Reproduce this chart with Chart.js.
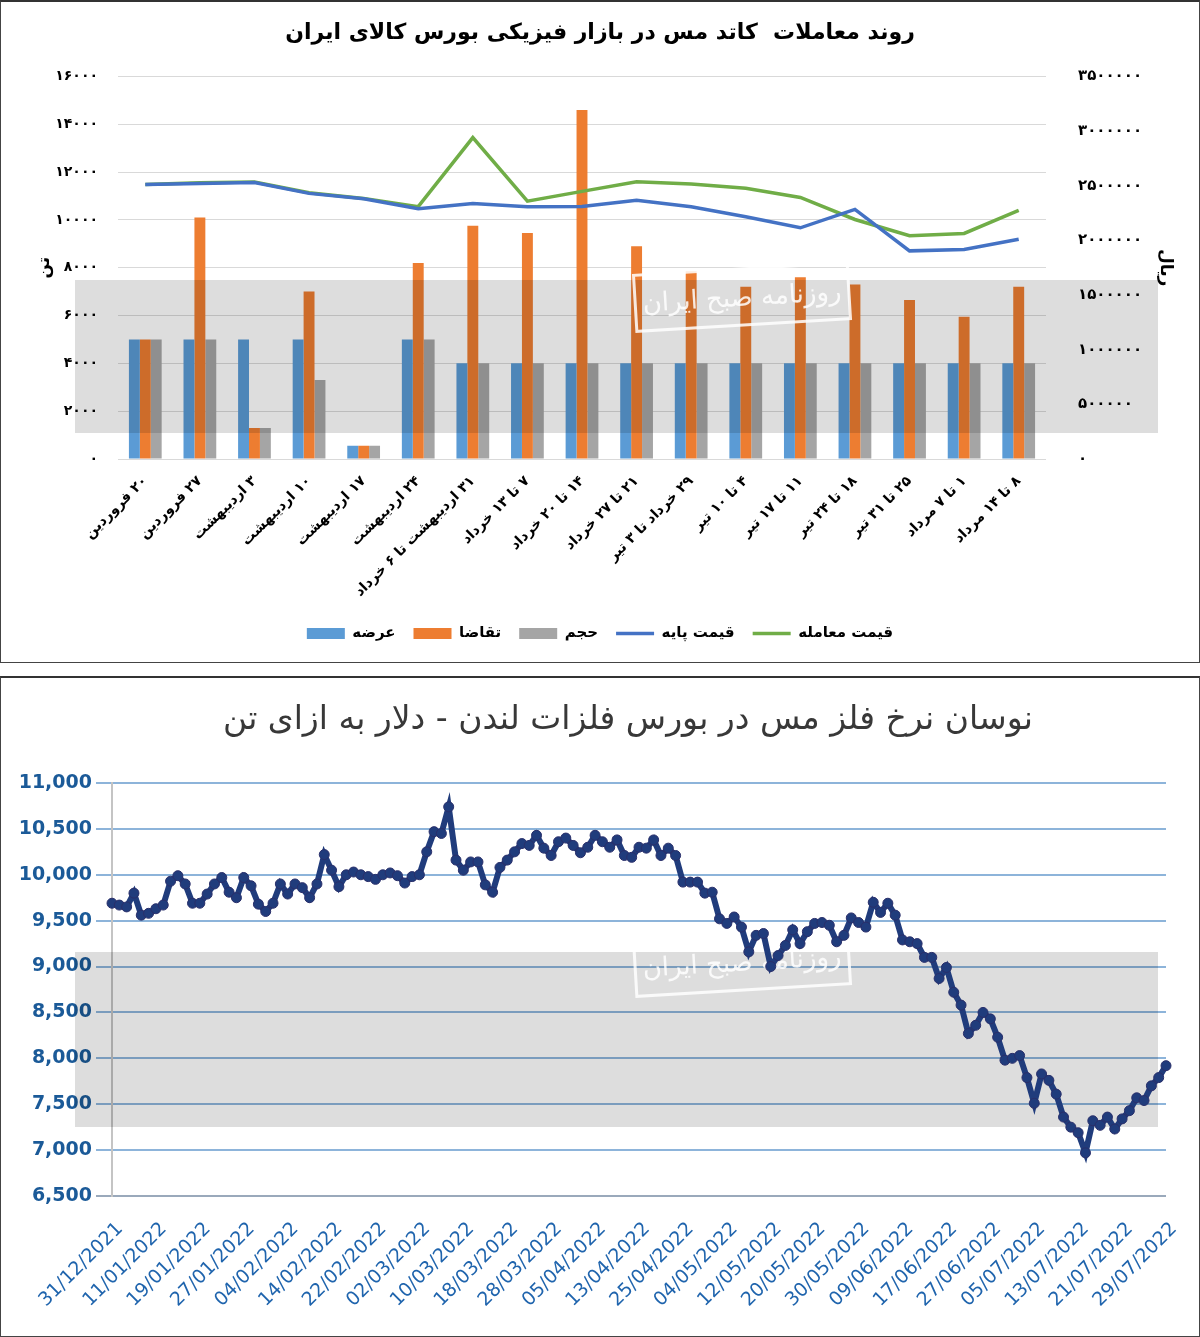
<!DOCTYPE html>
<html lang="fa">
<head>
<meta charset="utf-8">
<script src="https://cdn.jsdelivr.net/npm/chart.js@4.4.1/dist/chart.umd.min.js"></script>
<style>
  html, body { margin: 0; padding: 0; background: #fff; }
  body { width: 1200px; height: 1337px; position: relative; overflow: hidden; }
  canvas { position: absolute; left: 0; }
  #weekly { top: 0; }
  #lme { top: 676px; }
  .frame { position: absolute; left: 0; width: 1200px; box-sizing: border-box; border: 1px solid #444; pointer-events: none; }
  #f1 { top: 0; height: 663px; border-top: 2px solid #333; }
  #f2 { top: 676px; height: 661px; border-top: 2px solid #333; }
  #lmeTitle { position: absolute; top: 696px; left: 0; width: 1256px; text-align: center;
    font: 33px 'DejaVu Sans'; color: #383838; direction: rtl; line-height: 44px; }
</style>
</head>
<body>
<canvas id="weekly" width="1200" height="663" dir="rtl"></canvas>
<canvas id="lme" width="1200" height="661"></canvas>
<div id="lmeTitle">نوسان نرخ فلز مس در بورس فلزات لندن - دلار به ازای تن</div>
<div class="frame" id="f1"></div>
<div class="frame" id="f2"></div>
<script>
// --- top chart: weekly copper cathode trades on Iran Mercantile Exchange ---
const weeks = ['۲۰ فروردین', '۲۷ فروردین', '۳ اردیبهشت', '۱۰ اردیبهشت', '۱۷ اردیبهشت',
    '۲۴ اردیبهشت', '۳۱ اردیبهشت تا ۶ خرداد', '۷ تا ۱۳ خرداد', '۱۴ تا ۲۰ خرداد',
    '۲۱ تا ۲۷ خرداد', '۲۹ خرداد تا ۳ تیر', '۴ تا ۱۰ تیر', '۱۱ تا ۱۷ تیر',
    '۱۸ تا ۲۴ تیر', '۲۵ تا ۳۱ تیر', '۱ تا ۷ مرداد', '۸ تا ۱۴ مرداد'];
const supply = [5000, 5000, 5000, 5000, 550, 5000, 4000, 4000, 4000, 4000, 4000, 4000, 4000, 4000, 4000, 4000, 4000];
const demand = [5000, 10100, 1300, 7000, 550, 8200, 9750, 9450, 14600, 8900, 7850, 7200, 7600, 7300, 6650, 5950, 7200];
const volume = [5000, 5000, 1300, 3300, 550, 5000, 4000, 4000, 4000, 4000, 4000, 4000, 4000, 4000, 4000, 4000, 4000];
const basePrice = [2510000, 2520000, 2530000, 2430000, 2380000, 2290000, 2338000, 2308000, 2310000,
    2368000, 2308000, 2216000, 2115000, 2283000, 1904000, 1916000, 2011000];
const tradePrice = [2512000, 2528000, 2534000, 2436000, 2384000, 2308000, 2940000, 2359000, 2448000,
    2537000, 2515000, 2476000, 2393000, 2191000, 2042000, 2063000, 2274000];

// --- bottom chart: LME copper, USD per tonne ---
const lmeDates = ['31/12/2021', '11/01/2022', '19/01/2022', '27/01/2022', '04/02/2022',
    '14/02/2022', '22/02/2022', '02/03/2022', '10/03/2022', '18/03/2022', '28/03/2022',
    '05/04/2022', '13/04/2022', '25/04/2022', '04/05/2022', '12/05/2022', '20/05/2022',
    '30/05/2022', '09/06/2022', '17/06/2022', '27/06/2022', '05/07/2022', '13/07/2022',
    '21/07/2022', '29/07/2022'];
const lmeValues = [
    9690, 9670, 9650, 9800, 9560, 9580, 9630, 9670, 9930, 9990,
    9900, 9690, 9690, 9790, 9900, 9970, 9810, 9750, 9970, 9880,
    9680, 9600, 9690, 9900, 9790, 9900, 9860, 9750, 9900, 10220,
    10050, 9870, 10000, 10030, 10000, 9980, 9950, 10000, 10020, 9990,
    9910, 9980, 10000, 10250, 10470, 10450, 10740, 10160, 10050, 10140,
    10140, 9890, 9810, 10080, 10160, 10250, 10340, 10320, 10430, 10290,
    10210, 10360, 10400, 10320, 10240, 10300, 10430, 10360, 10300, 10380,
    10210, 10190, 10300, 10290, 10380, 10210, 10290, 10210, 9920, 9920,
    9920, 9800, 9810, 9520, 9470, 9540, 9430, 9160, 9340, 9360,
    9000, 9120, 9230, 9400, 9250, 9380, 9470, 9480, 9450, 9270,
    9340, 9530, 9480, 9430, 9700, 9590, 9690, 9560, 9290, 9270,
    9250, 9100, 9100, 8870, 8990, 8720, 8580, 8270, 8360, 8500,
    8430, 8230, 7980, 8000, 8030, 7790, 7510, 7830, 7760, 7610,
    7360, 7250, 7190, 6970, 7320, 7270, 7360, 7230, 7340, 7430,
    7570, 7540, 7700, 7790, 7920];
const lmeTickEvery = 6;

const FA = 'DejaVu Sans';
const faDigits = s => String(s).replace(/\d/g, d => '۰۱۲۳۴۵۶۷۸۹'[d]);

// gray newspaper watermark band + stamp, as in the printed page
function watermark(band, stamp, layer) {
    const draw = chart => {
        const ctx = chart.ctx;
        ctx.save();
        ctx.fillStyle = 'rgba(0,0,0,0.135)';
        ctx.fillRect(band[0], band[1], band[2], band[3]);
        ctx.translate(stamp[0], stamp[1]);
        ctx.rotate(-0.06);
        ctx.strokeStyle = 'rgba(255,255,255,0.85)';
        ctx.lineWidth = 3;
        ctx.strokeRect(-107, -28, 214, 56);
        ctx.fillStyle = 'rgba(255,255,255,0.85)';
        ctx.font = '26px ' + FA;
        ctx.textAlign = 'center';
        ctx.textBaseline = 'middle';
        ctx.fillText('روزنامه صبح ایران', 0, 2);
        ctx.restore();
    };
    return {id: 'watermark', [layer]: draw};
}

new Chart(document.getElementById('weekly'), {
    type: 'bar',
    plugins: [watermark([75, 280, 1083, 153], [742, 297], 'afterDatasetsDraw')],
    data: {
        labels: weeks,
        datasets: [
            {label: 'عرضه', data: supply, backgroundColor: '#5b9bd5', pointStyle: 'rect', order: 1},
            {label: 'تقاضا', data: demand, backgroundColor: '#ed7d31', pointStyle: 'rect', order: 1},
            {label: 'حجم', data: volume, backgroundColor: '#a5a5a5', pointStyle: 'rect', order: 1},
            {type: 'line', label: 'قیمت پایه', data: basePrice, yAxisID: 'y1', borderColor: '#4472c4',
                backgroundColor: '#4472c4', borderWidth: 3.5, pointRadius: 0, pointStyle: 'line', order: 0},
            {type: 'line', label: 'قیمت معامله', data: tradePrice, yAxisID: 'y1', borderColor: '#70ad47',
                backgroundColor: '#70ad47', borderWidth: 3.5, pointRadius: 0, pointStyle: 'line', order: 0},
        ],
    },
    options: {
        responsive: false,
        animation: false,
        devicePixelRatio: 1,
        layout: {padding: {left: 20, right: 20, top: 20, bottom: 12}},
        datasets: {bar: {barPercentage: 1, categoryPercentage: 0.6, borderWidth: 0}},
        scales: {
            x: {
                grid: {display: false},
                border: {display: false},
                ticks: {
                    autoSkip: false, minRotation: 45, maxRotation: 45, padding: 6,
                    color: '#000', font: {family: FA, size: 14, weight: 'bold'},
                },
                afterFit: s => { s.height = 149; },
            },
            y: {
                min: 0, max: 16000,
                grid: {color: '#d9d9d9', drawTicks: false},
                border: {display: false},
                ticks: {
                    stepSize: 2000, padding: 20, color: '#000',
                    font: {family: FA, size: 14, weight: 'bold'},
                    callback: v => faDigits(v),
                },
                title: {display: true, text: 'تن', color: '#000', padding: {top: 14, bottom: 0},
                    font: {family: FA, size: 17, weight: 'bold'}},
                afterFit: s => { s.width = 98; },
            },
            y1: {
                position: 'right',
                min: 0, max: 3500000,
                grid: {display: false, drawTicks: false},
                border: {display: false},
                ticks: {
                    stepSize: 500000, padding: 32, color: '#000',
                    font: {family: FA, size: 15, weight: 'bold'},
                    callback: v => faDigits(v),
                },
                title: {display: true, text: 'ریال', color: '#000', padding: {top: 4, bottom: 0},
                    font: {family: FA, size: 17, weight: 'bold'}},
                afterFit: s => { s.width = 134; },
            },
        },
        plugins: {
            title: {
                display: true,
                text: 'روند معاملات  کاتد مس در بازار فیزیکی بورس کالای ایران',
                color: '#000',
                font: {family: FA, size: 22, weight: 'bold'},
                padding: {top: 0, bottom: 30},
            },
            legend: {
                position: 'bottom',
                labels: {
                    usePointStyle: true, pointStyleWidth: 38, boxHeight: 11, padding: 18,
                    color: '#000', font: {family: FA, size: 15, weight: 'bold'},
                    sort: (a, b) => a.datasetIndex - b.datasetIndex,
                },
            },
            tooltip: {enabled: false},
        },
    },
});

new Chart(document.getElementById('lme'), {
    type: 'line',
    plugins: [watermark([75, 276, 1083, 175], [742, 286], 'beforeDatasetsDraw')],
    data: {
        labels: lmeValues.map((v, i) => i),
        datasets: [{
            label: 'LME',
            data: lmeValues,
            borderColor: '#203c7c',
            backgroundColor: '#203c7c',
            borderWidth: 6,
            pointRadius: 5,
            pointBorderWidth: 1,
            pointBorderColor: '#2a2f6a',
            pointBackgroundColor: '#203c7c',
            tension: 0,
        }],
    },
    options: {
        responsive: false,
        animation: false,
        devicePixelRatio: 1,
        layout: {padding: {left: 20, right: 34, top: 107, bottom: 0}},
        scales: {
            x: {
                offset: false,
                grid: {display: false},
                border: {display: false},
                ticks: {
                    autoSkip: false, minRotation: 45, maxRotation: 45, padding: 14, labelOffset: 8,
                    color: '#1f64ad', font: {family: FA, size: 19},
                    callback: (v, i) => i % lmeTickEvery === 0 ? lmeDates[i / lmeTickEvery] : null,
                },
                afterFit: s => { s.height = 141; },
            },
            y: {
                min: 6500, max: 11000,
                grid: {
                    color: c => c.tick && c.tick.value === 6500 ? '#9aa9bb' : '#8db4da',
                    lineWidth: 2, tickLength: 16,
                },
                border: {display: true, color: '#c4c4c4', width: 2},
                ticks: {
                    stepSize: 500, padding: 4, color: '#1b5a98',
                    font: {family: FA, size: 19, weight: 'bold'},
                    callback: v => v.toLocaleString('en-US'),
                },
                afterFit: s => { s.width = 92; },
            },
        },
        plugins: {
            legend: {display: false},
            tooltip: {enabled: false},
        },
    },
});
</script>
</body>
</html>
